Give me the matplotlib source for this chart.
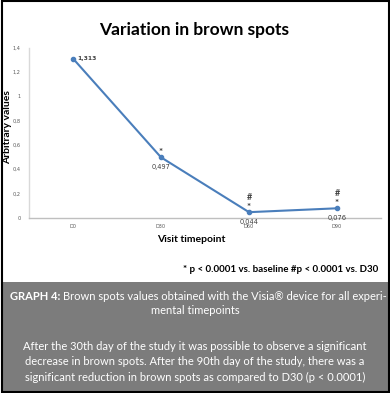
import matplotlib
matplotlib.use("Agg")
import matplotlib.pyplot as plt
from matplotlib.patches import Rectangle

plt.rcParams['font.family'] = ['Lato', 'DejaVu Sans']

categories = ["D0", "D30", "D60", "D90"]
values = [1.313, 0.497, 0.044, 0.076]
value_labels = ["1,313", "0,497", "0,044", "0,076"]
star_marks = ["", "*", "*", "*"]
hash_marks = ["", "", "#", "#"]
yticks = [0, 0.2, 0.4, 0.6, 0.8, 1.0, 1.2, 1.4]
ytick_labels = ["0", "0,2", "0,4", "0,6", "0,8", "1", "1,2", "1,4"]

W, H = 390, 393
fig = plt.figure(figsize=(W / 100, H / 100), dpi=100)
fig.patch.set_facecolor("white")

def fx(px):
    return px / W

def fy(py):
    return 1 - py / H

ax = fig.add_axes([fx(29), fy(217.5), fx(381) - fx(29), fy(48) - fy(217.5)])
x = [i + 0.5 for i in range(len(categories))]
ax.plot(x, values, color="#4a7ebb", lw=1.5, marker="o", ms=3, zorder=3)
ax.set_xlim(0, 4)
ax.set_ylim(0, 1.4)
ax.set_xticks(x)
ax.set_xticklabels(categories, family="DejaVu Sans")
ax.set_yticks(yticks)
ax.set_yticklabels(ytick_labels, family="DejaVu Sans")
ax.tick_params(axis="both", length=0, labelsize=3.6, colors="#595959", pad=6)
ax.tick_params(axis="x", pad=5)
for s in ["top", "right"]:
    ax.spines[s].set_visible(False)
ax.spines["left"].set_color("#d9d9d9")
ax.spines["bottom"].set_color("#bfbfbf")
ax.spines["left"].set_linewidth(1.0)
ax.spines["bottom"].set_linewidth(1.0)
ax.set_facecolor("none")

# data labels
for i, (xi, v, lab) in enumerate(zip(x, values, value_labels)):
    if i == 0:
        ax.annotate(lab, (xi, v), xytext=(4, 0), textcoords="offset pixels",
                    ha="left", va="center", fontsize=4.3, fontweight="bold",
                    color="#404040", family="DejaVu Sans")
    else:
        ax.annotate(lab, (xi, v), xytext=(0, -10), textcoords="offset pixels",
                    ha="center", va="center", fontsize=4.8, color="#404040",
                    family="DejaVu Sans")
    if star_marks[i]:
        ax.annotate(star_marks[i], (xi, v), xytext=(0, 5), textcoords="offset pixels",
                    ha="center", va="center", fontsize=7, fontweight="bold", color="#404040")
    if hash_marks[i]:
        ax.annotate(hash_marks[i], (xi, v), xytext=(0, 15), textcoords="offset pixels",
                    ha="center", va="center", fontsize=6.5, fontweight="bold", color="#404040")

fig.text(fx(194), fy(30), "Variation in brown spots", ha="center", va="center",
         fontsize=12.5, fontweight="bold", color="black")
fig.text(fx(8), fy(127), "Arbitrary values", ha="center", va="center", rotation=90,
         fontsize=7.5, fontweight="bold", color="black")
fig.text(fx(191), fy(239), "Visit timepoint", ha="center", va="center",
         fontsize=7.5, fontweight="bold", color="black")
fig.text(fx(378), fy(270), "* p < 0.0001 vs. baseline #p < 0.0001 vs. D30", ha="right",
         va="center", fontsize=7, fontweight="bold", color="black")

# grey caption box
fig.patches.append(Rectangle((fx(2), fy(391)), fx(388) - fx(2), fy(282) - fy(391),
                             transform=fig.transFigure, facecolor="#7c7c7c",
                             edgecolor="none", zorder=0))
# outer border
fig.patches.append(Rectangle((fx(1.5), fy(391.5)), fx(388.5) - fx(1.5), fy(1.5) - fy(391.5),
                             transform=fig.transFigure, facecolor="none",
                             edgecolor="black", lw=1.5, zorder=5))

renderer = fig.canvas.get_renderer()
t1 = fig.text(fx(10), fy(296), "GRAPH 4:", ha="left", va="center", fontsize=8,
              fontweight="bold", color="white")
bb = t1.get_window_extent(renderer=renderer)
fig.text(bb.x1 / fig.bbox.width + fx(3), fy(296),
         "Brown spots values obtained with the Visia® device for all experi-",
         ha="left", va="center", fontsize=8, color="white")
fig.text(fx(195), fy(311), "mental timepoints", ha="center", va="center",
         fontsize=8, color="white")
caption2 = [
    "After the 30th day of the study it was possible to observe a significant",
    "decrease in brown spots. After the 90th day of the study, there was a",
    "significant reduction in brown spots as compared to D30 (p < 0.0001)",
]
for j, line in enumerate(caption2):
    fig.text(fx(195), fy(346 + 15.5 * j), line, ha="center", va="center",
             fontsize=8, color="white")

fig.savefig("out.png", dpi=100)
